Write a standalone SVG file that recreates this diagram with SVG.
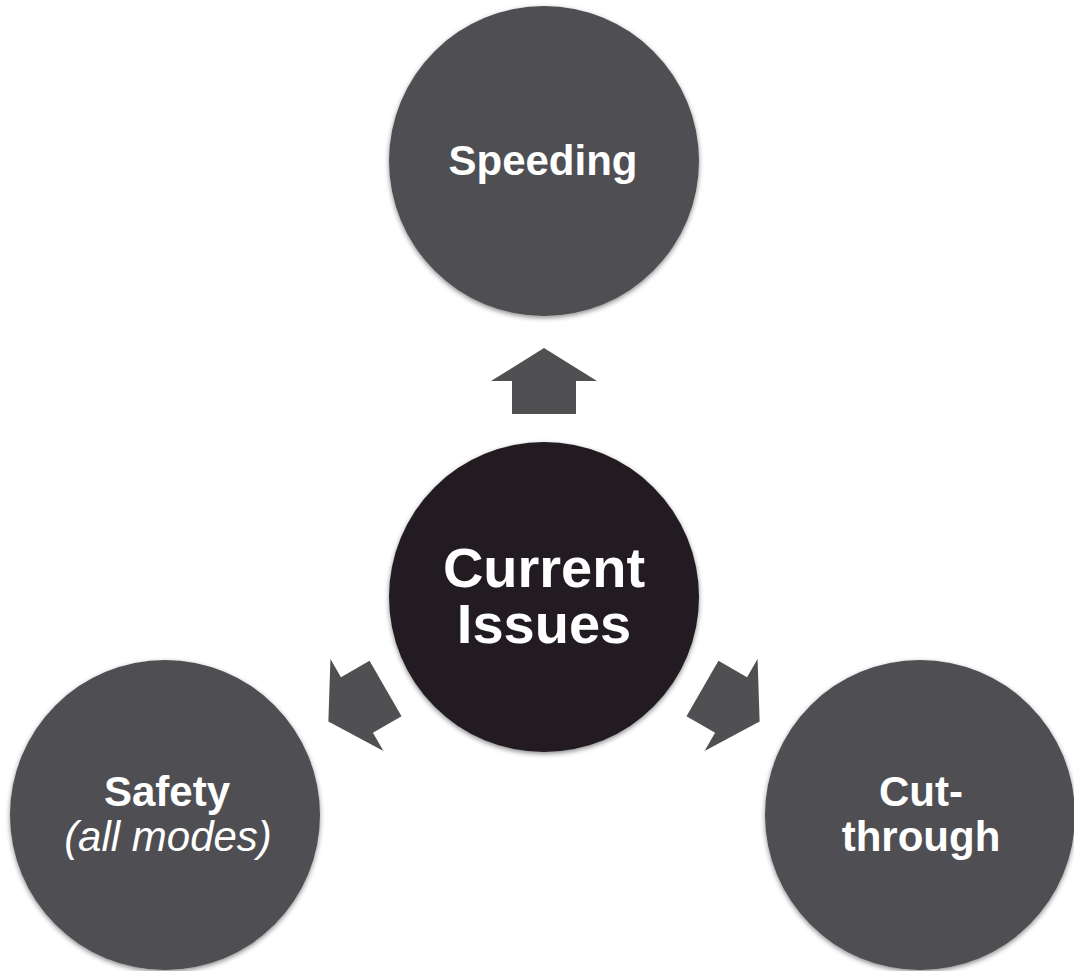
<svg xmlns="http://www.w3.org/2000/svg" width="1074" height="971" viewBox="0 0 1074 971">
  <defs>
    <filter id="shadow" x="-10%" y="-10%" width="120%" height="125%">
      <feDropShadow dx="0" dy="2" stdDeviation="2.5" flood-color="#000000" flood-opacity="0.45"/>
    </filter>
    <polygon id="arrowUp" points="544,348 597,381 576,381 576,414 512,414 512,381 491,381"/>
  </defs>
  <style>
    .outer { fill: #505052; filter: url(#shadow); }
    .hub { fill: #231f20; filter: url(#shadow); }
    .arrow { fill: #505052; }
    .lbl { font-family: "Liberation Sans", Arial, sans-serif; font-weight: bold; fill: #ffffff; text-anchor: middle; font-size: 42px; }
    .ital { font-weight: normal; font-style: italic; }
    .big { font-size: 56px; }
  </style>
  <rect width="1074" height="971" fill="#ffffff"/>

  <g id="connectors">
    <use href="#arrowUp" class="arrow"/>
    <use href="#arrowUp" class="arrow" transform="rotate(-120 544 597)"/>
    <use href="#arrowUp" class="arrow" transform="rotate(120 544 597)"/>
  </g>

  <g id="node-speeding">
    <circle class="outer" cx="544" cy="161" r="155"/>
    <text class="lbl" x="543" y="175">Speeding</text>
  </g>

  <g id="node-safety">
    <circle class="outer" cx="165" cy="815" r="155"/>
    <text class="lbl" x="167" y="806">Safety</text>
    <text class="lbl ital" x="168" y="851">(all modes)</text>
  </g>

  <g id="node-cutthrough">
    <circle class="outer" cx="920" cy="815" r="155"/>
    <text class="lbl" x="921" y="806">Cut-</text>
    <text class="lbl" x="921" y="851">through</text>
  </g>

  <g id="node-current">
    <circle class="hub" cx="544" cy="597" r="155"/>
    <text class="lbl big" x="544" y="587">Current</text>
    <text class="lbl big" x="544" y="643">Issues</text>
  </g>
</svg>
